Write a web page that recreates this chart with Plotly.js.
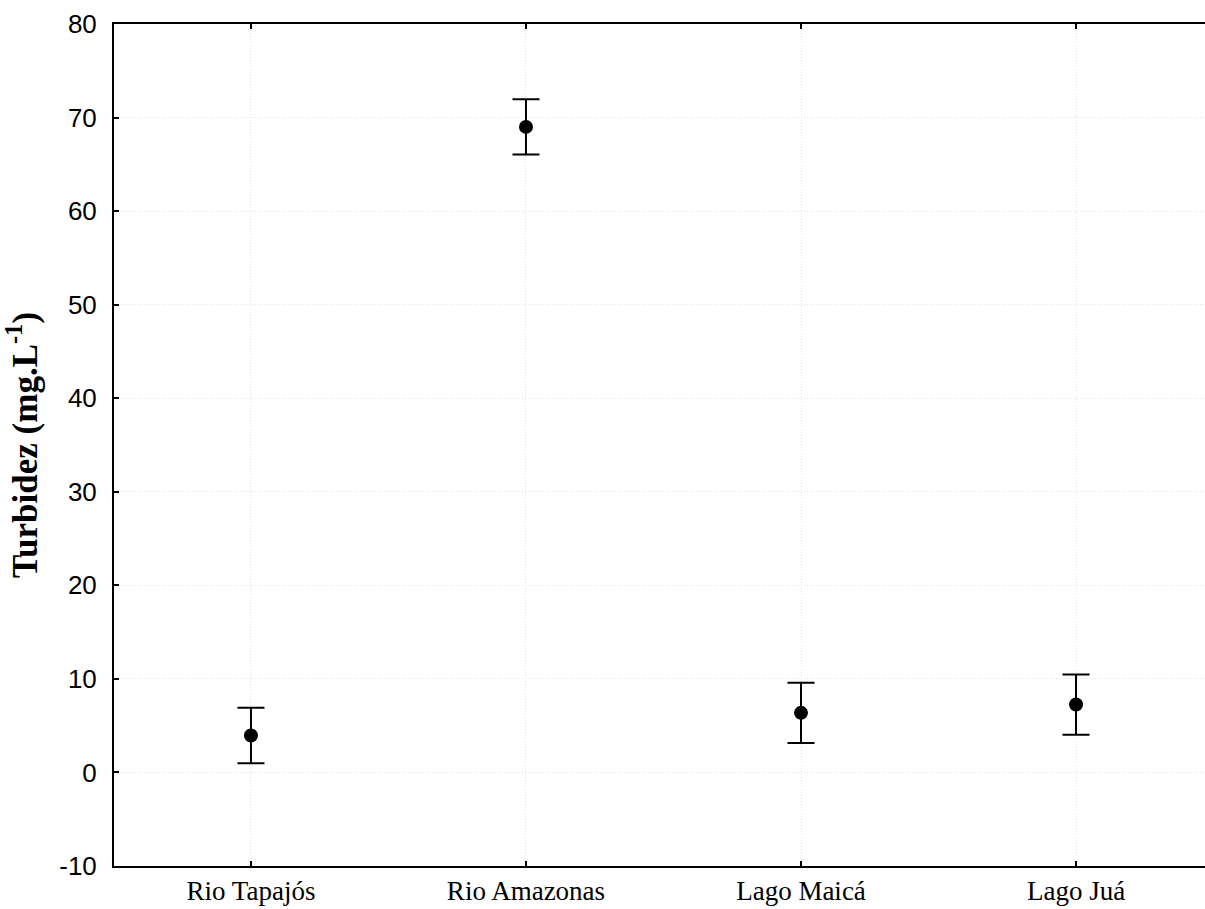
<!DOCTYPE html>
<html>
<head>
<meta charset="utf-8">
<script src="https://cdn.plot.ly/plotly-3.0.1.min.js"></script>
<style>html,body{margin:0;padding:0;background:#fff;overflow:hidden;}</style>
</head>
<body>
<div id="chart" style="width:1205px;height:909px;"></div>
<script>
const categories = ["Rio Tapajós", "Rio Amazonas", "Lago Maicá", "Lago Juá"];
const means = [3.95, 69.0, 6.37, 7.26];
const errors = [2.97, 2.95, 3.23, 3.22];
const yTicks = [-10, 0, 10, 20, 30, 40, 50, 60, 70, 80];

const trace = {
  x: categories.map((c, i) => i),
  y: means,
  type: 'scatter',
  mode: 'markers',
  marker: {color: '#000', size: 14},
  error_y: {type: 'data', array: errors, visible: true, color: '#000', thickness: 2, width: 13.5},
  hoverinfo: 'skip'
};

const layout = {
  width: 1205, height: 909,
  margin: {l: 114, r: 0, t: 24, b: 43},
  paper_bgcolor: '#fff', plot_bgcolor: '#fff',
  showlegend: false,
  xaxis: {
    range: [-0.498, 3.469],
    tickmode: 'array',
    tickvals: categories.map((c, i) => i),
    ticktext: categories,
    ticks: 'inside', ticklen: 5, tickwidth: 2, tickcolor: '#000',
    showline: true, linecolor: '#000', linewidth: 2, mirror: 'ticks',
    showgrid: true, gridcolor: '#e2e2e2', griddash: '1px,2px', gridwidth: 1,
    zeroline: false,
    tickfont: {family: 'Liberation Serif, Times New Roman, serif', size: 27, color: '#000'}
  },
  yaxis: {
    range: [-10, 80],
    tickmode: 'array',
    tickvals: yTicks,
    ticktext: yTicks.map(String),
    ticks: 'inside', ticklen: 5, tickwidth: 2, tickcolor: '#000',
    showline: true, linecolor: '#000', linewidth: 2, mirror: false,
    showgrid: true, gridcolor: '#e2e2e2', griddash: '1px,2px', gridwidth: 1,
    zeroline: false,
    ticklabelstandoff: 10,
    tickfont: {family: 'Liberation Sans, Arial, sans-serif', size: 26, color: '#000'},
    title: {
      text: '<b>Turbidez (mg.L<sup>-1</sup>)</b>',
      font: {family: 'Liberation Serif, Times New Roman, serif', size: 35, color: '#000'},
      standoff: 24
    }
  }
};

Plotly.newPlot('chart', [trace], layout, {staticPlot: true, displayModeBar: false});
</script>
</body>
</html>
